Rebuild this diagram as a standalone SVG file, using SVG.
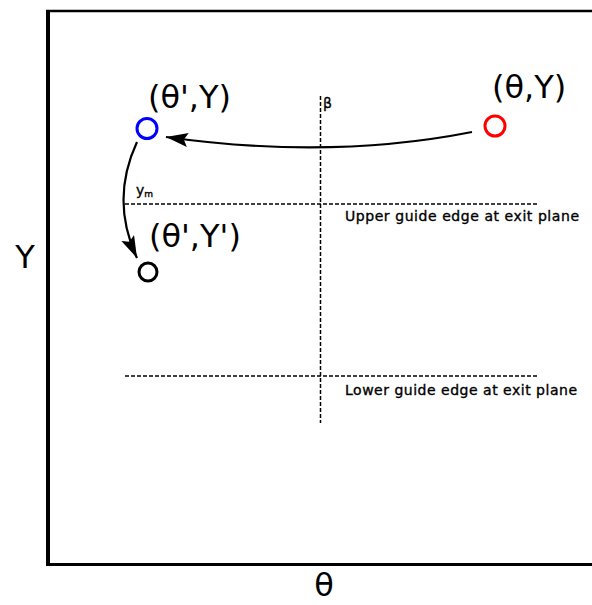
<svg xmlns="http://www.w3.org/2000/svg" width="592" height="605" viewBox="0 0 592 605">
<style>
.big{font-family:"DejaVu Sans",sans-serif;font-size:32px;fill:#000}
.small{font-family:"DejaVu Sans",sans-serif;font-size:14px;fill:#000;stroke:#000;stroke-width:0.35}
.dash{stroke:#000;stroke-width:1.5;stroke-dasharray:4,2;fill:none}
.conn{stroke:#000;stroke-width:2.2;fill:none;marker-end:url(#ah)}
.pt{fill:none;stroke-width:3}
</style>
<defs>
<marker id="ah" markerWidth="24" markerHeight="16" refX="22" refY="7" orient="auto" markerUnits="userSpaceOnUse">
<path d="M0,0 L22,7 L0,14 L4,7 Z" fill="#000"/>
</marker>
</defs>
<rect width="592" height="605" fill="#fff"/>
<g id="frame">
<line x1="48" y1="10" x2="48" y2="566" stroke="#000" stroke-width="4"/>
<line x1="46" y1="11" x2="592" y2="11" stroke="#000" stroke-width="2.5"/>
<line x1="46" y1="564.5" x2="592" y2="564.5" stroke="#000" stroke-width="3"/>
<text class="big" x="25" y="268" text-anchor="middle" font-size="34">Y</text>
<text class="big" x="324" y="596" text-anchor="middle" font-size="34">θ</text>
</g>
<g id="guides">
<line class="dash" x1="125" y1="204" x2="539" y2="204"/>
<line class="dash" x1="125" y1="376" x2="539" y2="376"/>
<line class="dash" x1="320.5" y1="96" x2="320.5" y2="423"/>
<text class="small" x="323" y="108" font-size="12" stroke-width="0.3">β</text>
<text class="small" x="136" y="195" font-size="13" stroke-width="0.3">y<tspan font-size="9" dy="2">m</tspan></text>
<text class="small" x="345" y="221" textLength="234">Upper guide edge at exit plane</text>
<text class="small" x="345" y="395" textLength="232">Lower guide edge at exit plane</text>
</g>
<g id="node-start">
<circle class="pt" cx="495" cy="126" r="10" stroke="#ff0000"/>
<text class="big" x="492" y="98">(θ,Y)</text>
</g>
<g id="node-mid">
<circle class="pt" cx="147" cy="128.5" r="10" stroke="#0000ff"/>
<text class="big" x="148" y="108">(θ',Y)</text>
</g>
<g id="node-end">
<circle class="pt" cx="148" cy="272" r="9" stroke="#000"/>
<text class="big" x="149" y="247">(θ',Y')</text>
</g>
<g id="connectors">
<path class="conn" d="M472,132 Q330,160 166,137"/>
<path class="conn" d="M137,142 Q110,200 137,258"/>
</g>
</svg>
